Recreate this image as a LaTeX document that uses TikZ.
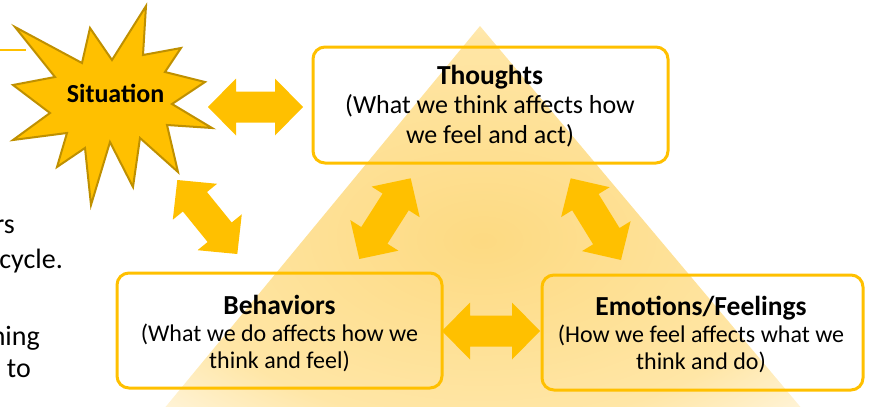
\documentclass[tikz,border=0pt]{standalone}
\usepackage{fontspec}
\setmainfont{Carlito}
\usetikzlibrary{calc}
\definecolor{gold}{HTML}{FFC000}
\definecolor{golddark}{HTML}{BF9000}
\definecolor{tricenter}{HTML}{FDDA82}
\definecolor{trimid}{HTML}{FFE6A6}
\definecolor{triouter}{HTML}{FFF6E0}
\pgfdeclareradialshading{trishade}{\pgfpoint{0bp}{-3bp}}{color(0bp)=(tricenter); color(25bp)=(trimid); color(36bp)=(triouter); color(60bp)=(triouter)}
\newcommand{\blockarrow}[2]{%
  \coordinate (ha) at ($(#1)!28pt!(#2)$);
  \coordinate (hb) at ($(#2)!28pt!(#1)$);
  \fill[arrowfill] (#1) -- ($(ha)!28.5pt!90:(#2)$) -- ($(ha)!15.5pt!90:(#2)$)
    -- ($(hb)!15.5pt!-90:(#1)$) -- ($(hb)!28.5pt!-90:(#1)$) -- (#2)
    -- ($(hb)!28.5pt!90:(#1)$) -- ($(hb)!15.5pt!90:(#1)$)
    -- ($(ha)!15.5pt!-90:(#2)$) -- ($(ha)!28.5pt!-90:(#2)$) -- cycle;
}
\begin{document}
\begin{tikzpicture}[x=1pt,y=-1pt,
  box/.style={draw=gold, line width=3pt, rounded corners=12pt, inner sep=0pt},
  arrowfill/.style={fill=gold},
  boxtext/.style={align=center, inner sep=0pt, font=\fontsize{24}{27}\selectfont},
  sidetext/.style={anchor=base east, inner sep=0pt, font=\fontsize{28}{33}\selectfont}]
\useasboundingbox (0,0) rectangle (871,407);
% background triangle
\shade[shading=trishade] (480,26) -- (163,410) -- (803,410) -- cycle;
% top-left rule
\draw[gold, line width=1.5pt] (0,50) -- (26,50);
% boxes
\node[box, minimum width=355pt, minimum height=116pt] (thoughts) at (490.5,105) {};
\node[box, minimum width=325pt, minimum height=115pt] (behaviors) at (279.5,330.5) {};
\node[box, minimum width=321pt, minimum height=115pt] (emotions) at (702.5,332.5) {};
\node[boxtext, font=\fontsize{26}{29.5}\selectfont] (thoughtstext) at (490,106)
  {{\fontsize{27.5}{29.5}\selectfont\bfseries Thoughts}\\(What we think affects how\\we feel and act)};
\node[boxtext] (behaviorstext) at (279.5,334)
  {{\fontsize{27.5}{27}\selectfont\bfseries Behaviors}\\(What we do affects how we\\think and feel)};
\node[boxtext] (emotionstext) at (701,334)
  {{\fontsize{27.5}{27}\selectfont\bfseries Emotions/Feelings}\\(How we feel affects what we\\think and do)};
% starburst
\draw[fill=gold, draw=golddark, line width=2pt, line join=miter]
  (15,27) -- (82,63) -- (90,28) -- (112,60) -- (146,6) -- (143,55) -- (181,48)
  -- (165,72) -- (205,82) -- (172,104) -- (212,128) -- (167,125) -- (178,172)
  -- (140,138) -- (133,187) -- (110,142) -- (91,205) -- (85,148) -- (57,167)
  -- (67,133) -- (13,140) -- (50,113) -- (13,85) -- (55,77) -- cycle;
\node[anchor=base, inner sep=0pt, font=\fontsize{26}{30}\selectfont\bfseries] (situation) at (115.5,102) {Situation};
% arrow end points
\coordinate (s1) at (208,107);
\coordinate (t1) at (303,107);
\coordinate (t2) at (410.7,178.3);
\coordinate (b1) at (359.3,259);
\coordinate (t3) at (570.7,178.3);
\coordinate (e1) at (621,260);
\coordinate (s2) at (177.3,180);
\coordinate (b2) at (237.3,254);
\coordinate (b3) at (442,331);
\coordinate (e2) at (540,331);
\blockarrow{s1}{t1}
\blockarrow{t2}{b1}
\blockarrow{t3}{e1}
\blockarrow{s2}{b2}
\blockarrow{b3}{e2}
% cropped side text
\node[sidetext] (side1) at (15,233) {rs};
\node[sidetext] (side2) at (63,268) {cycle.};
\node[sidetext] (side3) at (40,345) {ning};
\node[sidetext] (side4) at (31,377) {to};
\end{tikzpicture}
\end{document}
